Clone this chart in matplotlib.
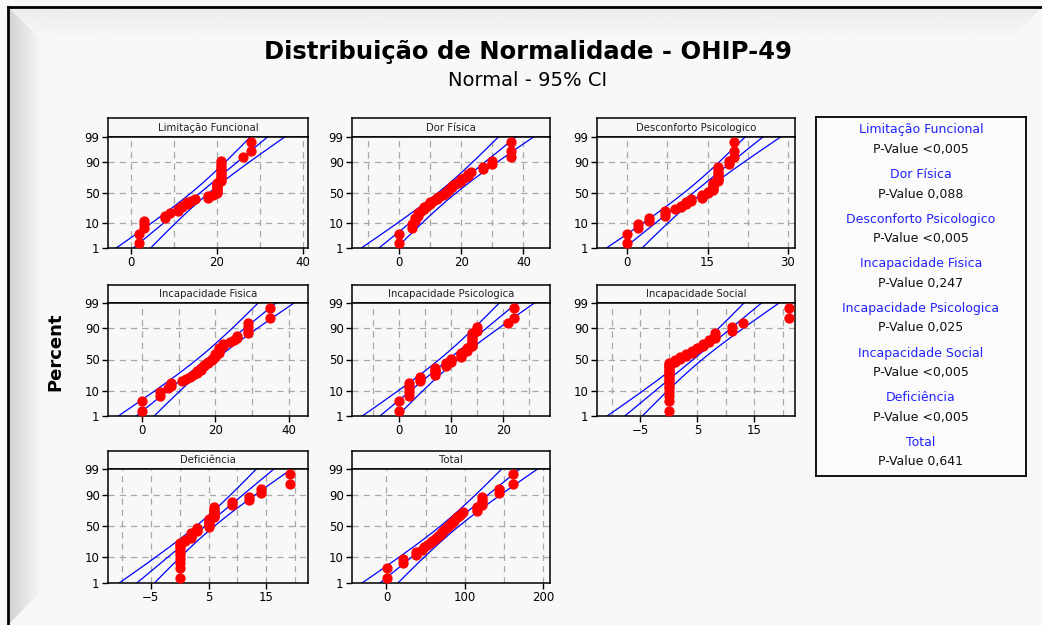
import numpy as np
import matplotlib.pyplot as plt
from matplotlib.patches import Rectangle, Polygon
from statistics import NormalDist

nd = NormalDist()
W, H = 1042, 625

names = ['Limitação Funcional', 'Dor Física', 'Desconforto Psicologico',
         'Incapacidade Fisica', 'Incapacidade Psicologica', 'Incapacidade Social',
         'Deficiência', 'Total']
pvalues = ['<0,005', '0,088', '<0,005', '0,247', '0,025', '<0,005', '<0,005', '0,641']

# sorted scores (n = 40)
lim_func = [2, 2, 3, 3, 3, 8, 8, 9, 11, 11, 12, 12, 13, 13, 14, 15, 18, 18, 19, 20,
            20, 20, 20, 20, 20, 20, 20, 21, 21, 21, 21, 21, 21, 21, 21, 21, 21, 26, 28, 28]
dor_fis = [0, 0, 4, 4, 5, 5, 6, 6, 7, 8, 8, 9, 10, 10, 11, 12, 12, 13, 14, 15,
           15, 16, 16, 17, 17, 18, 19, 20, 20, 21, 22, 22, 23, 27, 27, 30, 30, 36, 36, 36]
desc_psi = [0, 0, 2, 2, 4, 4, 7, 7, 7, 9, 10, 10, 11, 11, 12, 12, 14, 14, 14, 15,
            15, 16, 16, 16, 16, 16, 16, 17, 17, 17, 17, 17, 17, 17, 17, 19, 19, 20, 20, 20]
inc_fis = [0, 0, 5, 5, 7, 8, 8, 11, 12, 13, 14, 15, 15, 16, 16, 17, 17, 18, 18, 19,
           19, 20, 20, 20, 21, 21, 21, 21, 22, 22, 24, 25, 26, 26, 29, 29, 29, 29, 35, 35]
inc_psi = [0, 0, 2, 2, 2, 2, 2, 4, 4, 4, 7, 7, 7, 7, 7, 9, 9, 9, 10, 10,
           10, 12, 12, 12, 12, 13, 13, 13, 14, 14, 14, 14, 14, 14, 14, 15, 15, 21, 22, 22]
inc_soc = [0, 0, 0, 0, 0, 0, 0, 0, 0, 0, 0, 0, 0, 0, 0, 0, 0, 0, 1, 1,
           2, 2, 3, 3, 4, 4, 5, 5, 6, 6, 7, 7, 8, 8, 8, 11, 11, 13, 21, 21]
deficiencia = [0, 0, 0, 0, 0, 0, 0, 0, 0, 0, 1, 1, 2, 2, 2, 2, 3, 3, 3, 5,
               5, 5, 5, 5, 5, 6, 6, 6, 6, 6, 6, 6, 9, 9, 12, 12, 14, 14, 19, 19]
total = [1, 1, 21, 21, 38, 38, 45, 48, 52, 55, 58, 61, 63, 66, 68, 70, 72, 74, 76, 78,
         80, 82, 84, 86, 88, 90, 92, 95, 97, 116, 116, 116, 122, 122, 122, 122, 143, 143, 162, 162]
datasets = [lim_func, dor_fis, desc_psi, inc_fis, inc_psi, inc_soc, deficiencia, total]

# fitted normal
fit_mean = [16.2, 15.5, 12.4, 17.5, 9.5, 4.25, 4.45, 80.8]
fit_sd = [6.7, 9.5, 5.55, 8.2, 5.65, 5.15, 5.1, 38.3]

xlims = [(-5.3, 41.2), (-15.3, 48.6), (-5.6, 31.3), (-9.3, 45.3),
         (-9, 29), (-12.6, 22.1), (-12.4, 22.2), (-44, 208.6)]
xticks = [[0, 20, 40], [0, 20, 40], [0, 15, 30], [0, 20, 40],
          [0, 10, 20], [-5, 5, 15], [-5, 5, 15], [0, 100, 200]]
grid_step = [10, 10, 7.5, 10, 5, 5, 5, 50]
pct_ticks = [1, 10, 50, 90, 99]

cols = [(108, 308), (352, 550), (597, 795)]
rows = [(118, 137, 248), (285, 303, 416), (451, 469, 583)]

bgc = '#f8f8f8'
fig = plt.figure(figsize=(W / 100, H / 100), dpi=100)
fig.patch.set_facecolor(bgc)


def fax(x0, y0, x1, y1):
    return [x0 / W, 1 - y1 / H, (x1 - x0) / W, (y1 - y0) / H]


# bevelled frame
bg = fig.add_axes([0, 0, 1, 1], zorder=-5)
bg.set_xlim(0, W)
bg.set_ylim(H, 0)
bg.axis('off')
left_poly = Polygon([(8, 7), (42, 40), (42, 590), (8, 625)], closed=True,
                    facecolor='none', edgecolor='none')
bg.add_patch(left_poly)
im = bg.imshow(np.linspace(0.82, 0.97, 60)[None, :], cmap='gray', vmin=0, vmax=1,
               extent=(8, 42, 625, 7), aspect='auto')
im.set_clip_path(left_poly)
top_poly = Polygon([(8, 7), (1042, 7), (1010, 40), (42, 40)], closed=True,
                   facecolor='none', edgecolor='none')
bg.add_patch(top_poly)
im2 = bg.imshow(np.linspace(0.92, 0.975, 60)[:, None], cmap='gray', vmin=0, vmax=1,
                extent=(8, 1042, 40, 7), aspect='auto')
im2.set_clip_path(top_poly)
bg.plot([8, 1042], [7, 7], color='black', lw=2)
bg.plot([8, 8], [7, 625], color='black', lw=2)

fig.text(528 / W, 1 - 52 / H, 'Distribuição de Normalidade - OHIP-49',
         ha='center', va='center', fontsize=17.5, fontweight='bold')
fig.text(528 / W, 1 - 80 / H, 'Normal - 95% CI', ha='center', va='center', fontsize=14)
fig.text(55 / W, 1 - 352 / H, 'Percent', ha='center', va='center', rotation=90,
         fontsize=13, fontweight='bold')

zlo, zhi = nd.inv_cdf(0.01), nd.inv_cdf(0.99)
zc = np.linspace(nd.inv_cdf(0.004), nd.inv_cdf(0.996), 200)

for k, vals in enumerate(datasets):
    r, c = divmod(k, 3)
    x0, x1 = cols[c]
    yh, yt, yb = rows[r]

    hax = fig.add_axes(fax(x0, yh, x1, yt))
    hax.set_facecolor(bgc)
    hax.set_xticks([])
    hax.set_yticks([])
    for s in hax.spines.values():
        s.set_linewidth(1.1)
    hax.text(0.5, 0.5, names[k], ha='center', va='center', fontsize=7.3,
             color='#202020', transform=hax.transAxes)

    ax = fig.add_axes(fax(x0, yt, x1, yb))
    ax.set_facecolor(bgc)
    for s in ax.spines.values():
        s.set_linewidth(1.1)

    x = np.sort(np.array(vals, dtype=float))
    n = len(x)
    ranks = np.arange(1, n + 1)
    z = np.array([nd.inv_cdf(p) for p in (ranks - 0.3) / (n + 0.4)])

    mu, sd = fit_mean[k], fit_sd[k]
    xf = mu + zc * sd
    half = 1.96 * sd * np.sqrt((1 + zc ** 2 / 2) / n)
    for xl in (xf, xf - half, xf + half):
        ax.plot(xl, zc, color='#0000ff', lw=0.9, zorder=2)

    ax.plot(x, z, 'o', color='#ff0000', ms=6.4, mec='#ff0000', zorder=3)

    lo, hi = xlims[k]
    step = grid_step[k]
    gx = np.arange(np.ceil(lo / step) * step, hi, step)
    for g in gx:
        ax.axvline(g, color='#a8a8a8', lw=0.9, ls=(0, (5, 4)), zorder=1)
    for p in [10, 50, 90]:
        ax.axhline(nd.inv_cdf(p / 100), color='#a8a8a8', lw=0.9, ls=(0, (5, 4)), zorder=1)

    ax.set_xlim(lo, hi)
    ax.set_ylim(zlo, zhi)
    ax.set_xticks(xticks[k])
    ax.set_yticks([nd.inv_cdf(p / 100) for p in pct_ticks])
    ax.set_yticklabels([str(p) for p in pct_ticks])
    ax.tick_params(direction='out', length=4, width=1, labelsize=8.5, pad=2)

# p-value box
lax = fig.add_axes(fax(816, 117, 1026, 476))
lax.set_facecolor('#fbfbfb')
lax.set_xticks([])
lax.set_yticks([])
for s in lax.spines.values():
    s.set_linewidth(1.3)
for k in range(8):
    yn = 130 + 44.6 * k
    fig.text(921 / W, 1 - yn / H, names[k], ha='center', va='center',
             fontsize=9, color='#2222ff')
    fig.text(921 / W, 1 - (yn + 19.5) / H, 'P-Value ' + pvalues[k], ha='center',
             va='center', fontsize=9, color='#111111')

fig.savefig('out.png', dpi=100, facecolor=fig.get_facecolor())
